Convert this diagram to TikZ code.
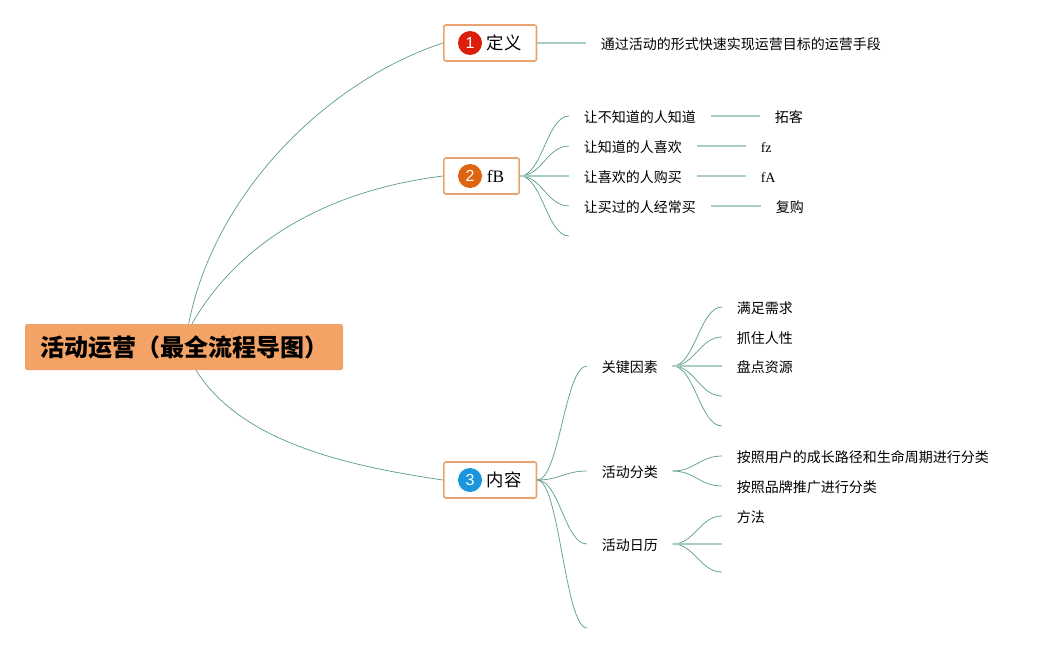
\documentclass[tikz,border=0pt]{standalone}
\usepackage{fontspec}
\setmainfont{Liberation Serif}
\newfontfamily\cjk{Noto Sans CJK SC}
\newfontfamily\numfont{Liberation Sans}
\definecolor{branch}{HTML}{5F9F8C}
\definecolor{stem}{HTML}{A9CDC3}
\definecolor{peach}{HTML}{F4A367}
\definecolor{edge}{HTML}{E9A36F}
\definecolor{dotred}{HTML}{DC1F0A}
\definecolor{dotorange}{HTML}{E0640F}
\definecolor{dotblue}{HTML}{1A96DC}
\tikzset{
  rootbox/.style={fill=peach,rounded corners=1.5pt,minimum width=238.5pt,minimum height=34.5pt,inner sep=0pt,font=\cjk\bfseries\fontsize{18}{18}\selectfont},
  topicbox/.style={draw=edge,line width=1.2pt,fill=white,rounded corners=1.5pt,anchor=west,minimum height=27pt,inner ysep=0pt,inner xsep=11.25pt,text height=10pt,text depth=0.2pt,font=\cjk\fontsize{13}{13}\selectfont},
  numdot/.style={circle,minimum size=18pt,inner sep=0pt,text=white,font=\numfont\fontsize{12}{12}\selectfont},
  leaf/.style={anchor=west,inner xsep=10.9pt,inner ysep=0pt,text height=10pt,text depth=0.5pt,font=\cjk\fontsize{10.5}{10.5}\selectfont},
  twig/.style={branch,line width=0.55pt},
  stemline/.style={stem,line width=1.2pt},
  fan/.style={out=0,in=180,distance=16.5pt},
}
\newcommand{\dotgap}{\hspace*{21pt}}
\begin{document}
\begin{tikzpicture}[x=0.75pt,y=-0.75pt]
\useasboundingbox (0,0) rectangle (1049,653);

% Root and the three topics
\node[rootbox] (root) at (184,347) {\raisebox{-0.8pt}{活动运营（最全流程导图）}};
\node[topicbox] (ding) at (443,43) {\dotgap 定义};
\node[topicbox] (fb) at (443,176) {\dotgap {\rmfamily fB}};
\node[topicbox] (nei) at (443,480) {\dotgap 内容};
\node[numdot,fill=dotred] (dotone) at (470,43) {1};
\node[numdot,fill=dotorange] (dottwo) at (470,176) {2};
\node[numdot,fill=dotblue] (dotthree) at (470,480) {3};

% Root to topics
\draw[twig] ([xshift=3.5pt]root.north) .. controls (215,190) and (330,80) .. (ding.west);
\draw[twig] ([xshift=6pt]root.north) .. controls (240,240) and (330,190) .. (fb.west);
\draw[twig] ([xshift=9pt]root.south) .. controls (240,440) and (340,465) .. (nei.west);

% Topic one
\node[leaf] (dingtext) at (586,43) {通过活动的形式快速实现运营目标的运营手段};
\draw[stemline] (ding.east) -- (dingtext.west);

% Topic two
\node[leaf] (know) at (569,116) {让不知道的人知道};
\node[leaf] (like) at (569,146) {让知道的人喜欢};
\node[leaf] (buy) at (569,176) {让喜欢的人购买};
\node[leaf] (again) at (569,206) {让买过的人经常买};
\coordinate (fbend) at (569,236);
\node[leaf] (tuoke) at (760,116) {拓客};
\node[leaf] (fz) at (746,146) {\rmfamily fz};
\node[leaf] (fa) at (746,176) {\rmfamily fA};
\node[leaf] (fugou) at (761,206) {复购};
\foreach \n in {know,like,again,fbend}
  \draw[twig] (fb.east) to[fan] (\n);
\draw[stemline] (fb.east) -- (buy.west);
\draw[stemline] (know) -- (tuoke);
\draw[stemline] (like) -- (fz);
\draw[stemline] (buy) -- (fa);
\draw[stemline] (again) -- (fugou);

% Topic three
\node[leaf] (factor) at (587,366) {关键因素};
\node[leaf] (kinds) at (587,471) {活动分类};
\node[leaf] (calendar) at (587,544) {活动日历};
\coordinate (neiend) at (587,628);
\foreach \n in {factor,kinds,calendar,neiend}
  \draw[twig] (nei.east) to[fan] (\n);

\node[leaf] (need) at (722,307) {满足需求};
\node[leaf] (human) at (722,337) {抓住人性};
\node[leaf] (res) at (722,366) {盘点资源};
\coordinate (factora) at (722,396);
\coordinate (factorb) at (722,426);
\foreach \n in {need,human,factora,factorb}
  \draw[twig] (factor.east) to[fan] (\n);
\draw[stemline] (factor.east) -- (res.west);

\node[leaf] (path) at (722,456) {按照用户的成长路径和生命周期进行分类};
\node[leaf] (brand) at (722,486) {按照品牌推广进行分类};
\foreach \n in {path,brand}
  \draw[twig] (kinds.east) to[fan] (\n);

\node[leaf] (method) at (722,516) {方法};
\coordinate (calmid) at (722,544);
\coordinate (calend) at (722,572);
\foreach \n in {method,calend}
  \draw[twig] (calendar.east) to[fan] (\n);
\draw[stemline] (calendar.east) -- (calmid);
\end{tikzpicture}
\end{document}
